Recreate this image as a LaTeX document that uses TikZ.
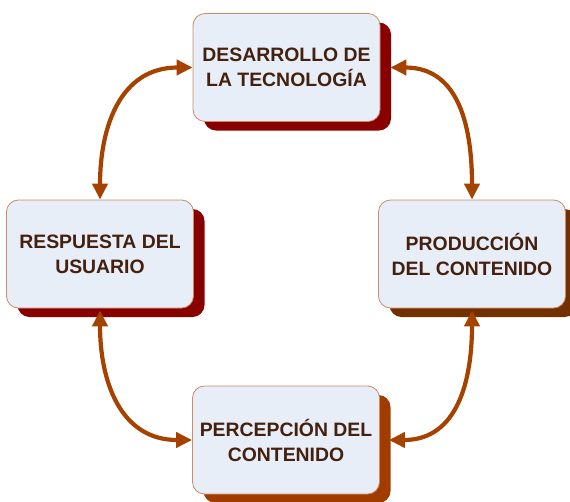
\documentclass[tikz,border=0pt]{standalone}
\usepackage{fontspec}
\setmainfont{Liberation Sans}
\usepackage{tikz}
\usetikzlibrary{shadows}
\usetikzlibrary{arrows.meta}
\definecolor{boxfill}{HTML}{E8EEF7}
\definecolor{boxline}{HTML}{CC8A66}
\definecolor{boxtext}{HTML}{44200E}
\definecolor{shdred}{HTML}{880000}
\definecolor{shdbrown}{HTML}{722F00}
\definecolor{shdorange}{HTML}{A03C00}
\definecolor{arrowcol}{HTML}{A64200}
\tikzstyle{stage}=[draw=boxline, fill=boxfill, line width=0.8pt, rounded corners=12pt, minimum width=187pt, minimum height=108pt, align=center, text=boxtext, font=\fontsize{19.4}{25}\selectfont\bfseries]
\tikzstyle{redstage}=[stage, general shadow={fill=shdred, shadow xshift=11pt, shadow yshift=-9pt}]
\tikzstyle{brownstage}=[stage, general shadow={fill=shdbrown, shadow xshift=11pt, shadow yshift=-9pt}]
\tikzstyle{orangestage}=[stage, general shadow={fill=shdorange, shadow xshift=11pt, shadow yshift=-9pt}]
\tikzstyle{cycle}=[draw=arrowcol, line width=4.2pt, looseness=1.15, {Triangle[length=16pt,width=15pt]}-{Triangle[length=16pt,width=15pt]}]

\begin{document}
\begin{tikzpicture}[x=1pt, y=1pt]
        \useasboundingbox (0,0) rectangle (570,-501);
        \node[redstage]    (tec) at (286.5,-67.5) {DESARROLLO DE\\LA TECNOLOGÍA};
        \node[redstage]    (usu) at (100,-254)    {RESPUESTA DEL\\USUARIO};
        \node[brownstage]  (pro) at (472,-254)    {PRODUCCIÓN\\DEL CONTENIDO};
        \node[orangestage] (per) at (286,-440)    {PERCEPCIÓN DEL\\CONTENIDO};
        \draw[cycle] (usu.north) to[out=90, in=180] (tec.west);
        \draw[cycle] ([xshift=10pt]tec.east) to[out=0, in=90] (pro.north);
        \draw[cycle] ([yshift=-2pt]pro.south) to[out=-90, in=0] ([xshift=9pt]per.east);
        \draw[cycle] (per.west) to[out=180, in=-90] ([yshift=-2pt]usu.south);
    \end{tikzpicture}
\end{document}
